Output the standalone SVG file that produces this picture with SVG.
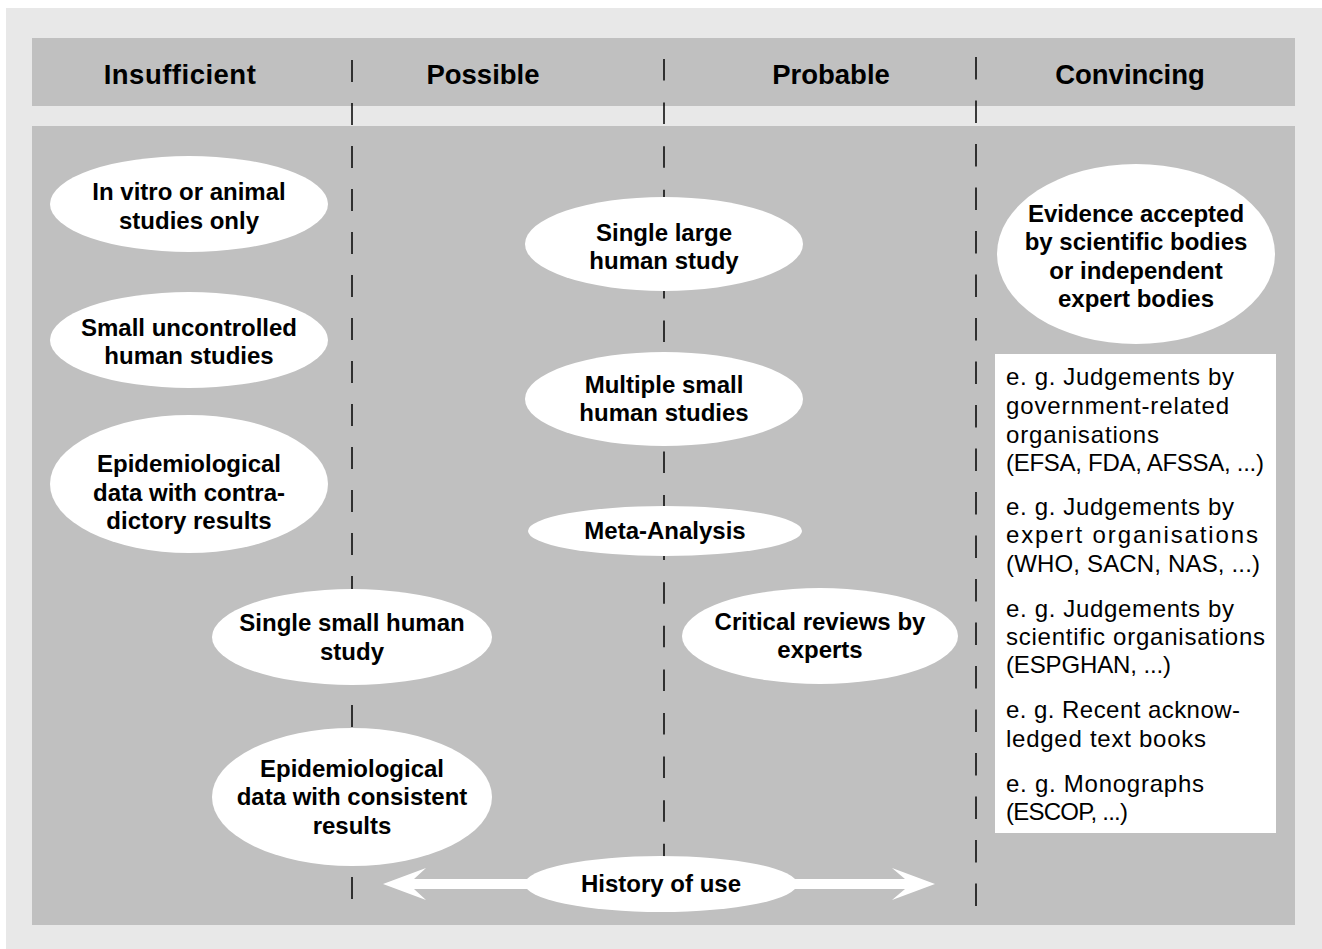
<svg xmlns="http://www.w3.org/2000/svg" width="1322" height="949" viewBox="0 0 1322 949">
<style>
.band{fill:#c0c0c0}
.node{fill:#ffffff}
.hd{font-family:"Liberation Sans",Arial,sans-serif;font-weight:bold;font-size:27.5px;fill:#000;text-anchor:middle}
.t{font-family:"Liberation Sans",Arial,sans-serif;font-weight:bold;font-size:24px;fill:#000;text-anchor:middle}
.bx{font-family:"Liberation Sans",Arial,sans-serif;font-size:24px;fill:#000}
.div{stroke:#000;stroke-width:1.5;fill:none}
</style>
<rect x="0" y="0" width="1322" height="949" fill="#ffffff"/>
<rect x="6" y="8" width="1316" height="941" fill="#e8e8e8"/>
<rect class="band" x="32" y="38" width="1263" height="68"/>
<rect class="band" x="32" y="126" width="1263" height="799"/>
<g id="headers">
<text class="hd" x="180" y="84" letter-spacing="0.5">Insufficient</text>
<text class="hd" x="483" y="84">Possible</text>
<text class="hd" x="831" y="84">Probable</text>
<text class="hd" x="1130" y="84">Convincing</text>
</g>
<g id="dividers">
<line class="div" x1="352" y1="60" x2="352" y2="910" stroke-dasharray="22 21"/>
<line class="div" x1="664" y1="59" x2="664" y2="910" stroke-dasharray="21.5 22.1"/>
<line class="div" x1="976" y1="57" x2="976" y2="910" stroke-dasharray="22.5 21"/>
</g>
<g id="connectors">
<polygon fill="#ffffff" points="383,884 426,868 414,879 905,879 892,868 935,884 892,900 905,889 414,889 426,900"/>
</g>
<g id="n1"><ellipse class="node" cx="189" cy="204" rx="139" ry="48"/><text class="t" x="189" y="200">In vitro or animal</text><text class="t" x="189" y="229">studies only</text></g>
<g id="n2"><ellipse class="node" cx="189" cy="340" rx="139" ry="48"/><text class="t" x="189" y="336">Small uncontrolled</text><text class="t" x="189" y="364">human studies</text></g>
<g id="n3"><ellipse class="node" cx="189" cy="484" rx="139" ry="69"/><text class="t" x="189" y="472">Epidemiological</text><text class="t" x="189" y="501">data with contra-</text><text class="t" x="189" y="529">dictory results</text></g>
<g id="n4"><ellipse class="node" cx="352" cy="637" rx="140" ry="48"/><text class="t" x="352" y="631">Single small human</text><text class="t" x="352" y="660">study</text></g>
<g id="n5"><ellipse class="node" cx="352" cy="797" rx="140" ry="69"/><text class="t" x="352" y="777">Epidemiological</text><text class="t" x="352" y="805">data with consistent</text><text class="t" x="352" y="834">results</text></g>
<g id="n6"><ellipse class="node" cx="664" cy="244" rx="139" ry="47"/><text class="t" x="664" y="241">Single large</text><text class="t" x="664" y="269">human study</text></g>
<g id="n7"><ellipse class="node" cx="664" cy="399" rx="139" ry="47"/><text class="t" x="664" y="393">Multiple small</text><text class="t" x="664" y="421">human studies</text></g>
<g id="n8"><ellipse class="node" cx="665" cy="531" rx="137" ry="25"/><text class="t" x="665" y="539">Meta-Analysis</text></g>
<g id="n9"><ellipse class="node" cx="820" cy="636" rx="138" ry="48"/><text class="t" x="820" y="630">Critical reviews by</text><text class="t" x="820" y="658">experts</text></g>
<g id="n10"><ellipse class="node" cx="1136" cy="254" rx="139" ry="90"/><text class="t" x="1136" y="222">Evidence accepted</text><text class="t" x="1136" y="250">by scientific bodies</text><text class="t" x="1136" y="279">or independent</text><text class="t" x="1136" y="307">expert bodies</text></g>
<g id="n11"><ellipse class="node" cx="661" cy="884" rx="136" ry="28"/><text class="t" x="661" y="892">History of use</text></g>
<g id="examples">
<rect x="995" y="354" width="281" height="479" fill="#ffffff"/>
<text class="bx" x="1006" y="385" textLength="228">e. g. Judgements by</text>
<text class="bx" x="1006" y="414" textLength="223">government-related</text>
<text class="bx" x="1006" y="443" textLength="153">organisations</text>
<text class="bx" x="1006" y="471" textLength="258">(EFSA, FDA, AFSSA, ...)</text>
<text class="bx" x="1006" y="515" textLength="228">e. g. Judgements by</text>
<text class="bx" x="1006" y="543" textLength="252">expert organisations</text>
<text class="bx" x="1006" y="572" textLength="254">(WHO, SACN, NAS, ...)</text>
<text class="bx" x="1006" y="617" textLength="228">e. g. Judgements by</text>
<text class="bx" x="1006" y="645" textLength="259">scientific organisations</text>
<text class="bx" x="1006" y="673" textLength="165">(ESPGHAN, ...)</text>
<text class="bx" x="1006" y="718" textLength="234">e. g. Recent acknow-</text>
<text class="bx" x="1006" y="747" textLength="200">ledged text books</text>
<text class="bx" x="1006" y="792" textLength="198">e. g. Monographs</text>
<text class="bx" x="1006" y="820" textLength="122">(ESCOP, ...)</text>
</g>
</svg>
